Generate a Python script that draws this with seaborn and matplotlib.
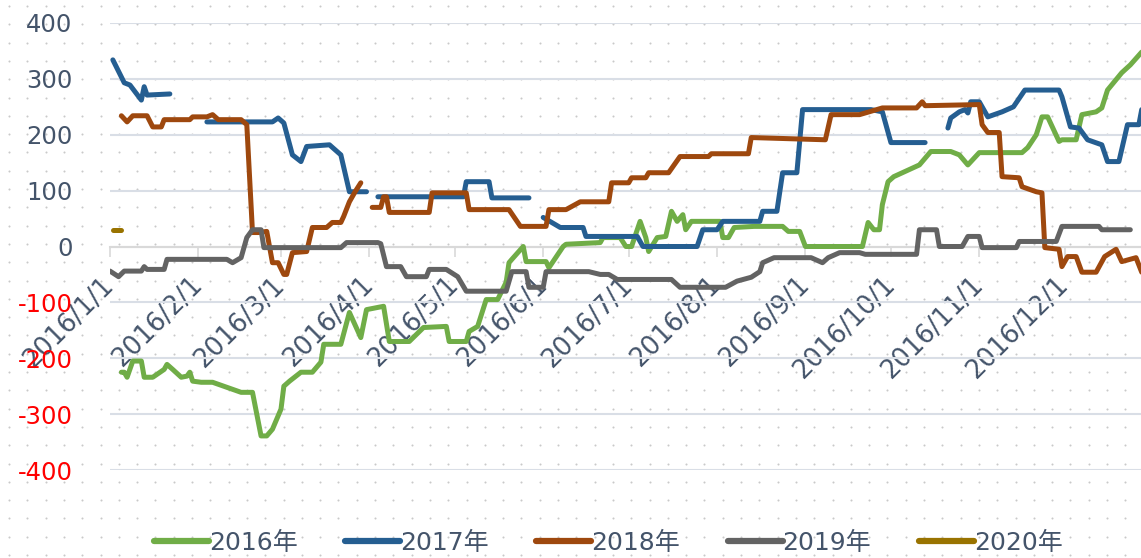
import numpy as np
import pandas as pd
import matplotlib
matplotlib.use("Agg")
import matplotlib.pyplot as plt
from matplotlib.lines import Line2D
import seaborn as sns

years = ["2016年", "2017年", "2018年", "2019年", "2020年"]
colors = ["#70AD47", "#255E91", "#9E480E", "#636363", "#997300"]

# x = days since 2016-01-01, None marks a gap in the line
day16 = [4, 5, 6, 8, 11, 12, 15, 19, 20, 22, 25, 27, 28, 29, 32, 36, 46, 50, 53, 55,
         57, 60, 61, 63, 67, 71, 74, 75, 81, 84, 88, 90, 96, 98, 105, 110, 118, 119, 125, 126,
         129, 132, 136, 139, 140, 141, 145, 146, 153, 154, 159, 160, 172, 173, 179, 181, 183, 186, 188, 189,
         192, 195, 197, 199, 201, 202, 204, 214, 215, 217, 219, 226, 236, 238, 242, 244, 264, 266, 268, 270,
         271, 273, 275, 284, 288, 295, 298, 301, 305, 320, 322, 325, 327, 329, 333, 334, 339, 341, 346, 348,
         350, 355, 358, 362]
val16 = [-225, -225, -234, -205, -205, -234, -234, -220, -211, -220, -234, -232, -225, -241, -243, -243, -261, -261, -339, -339,
         -327, -291, -250, -241, -225, -225, -207, -175, -175, -118, -163, -113, -107, -170, -170, -145, -143, -170, -170, -152,
         -143, -95, -95, -64, -29, -23, 0, -27, -27, -38, 0, 4, 7, 16, 16, 0, 0, 45, 16, -9,
         16, 18, 63, 45, 57, 30, 45, 45, 16, 16, 34, 36, 36, 27, 27, 0, 0, 43, 30, 30,
         75, 116, 125, 146, 170, 170, 164, 146, 168, 168, 177, 200, 232, 232, 188, 191, 191, 236, 241, 248,
         280, 311, 325, 348]

day17 = [1, 5, 7, 11, 12, 13, 21, 22, 34, 57, 59, 61, 64, 67, 69, 77, 81, 84, 90, 92,
         94, 124, 125, 133, 134, 147, 150, 152, 158, 166, 167, 185, 187, 206, 208, 213, 215, 228, 229, 234,
         236, 241, 243, 267, 271, 274, 286, 290, 294, 295, 298, 300, 301, 302, 305, 308, 313, 317, 321, 333,
         334, 337, 340, 343, 348, 350, 354, 357, 361, 362]
val17 = [334, 293, 289, 262, 286, 271, 273, None, 223, 223, 230, 221, 164, 152, 179, 182, 164, 98, 98, None,
         89, 89, 116, 116, 87, 87, None, 52, 34, 34, 18, 18, 0, 0, 30, 30, 45, 45, 63, 63,
         132, 132, 245, 245, 241, 186, 186, None, 212, 230, 241, 245, 239, 259, 259, 232, 241, 250, 280, 280,
         268, 214, 212, 191, 182, 152, 152, 218, 218, 245]

day18 = [4, 6, 8, 13, 15, 18, 19, 28, 29, 34, 36, 38, 46, 48, 50, 52, 55, 57, 59, 61,
         62, 64, 69, 71, 76, 78, 81, 82, 84, 86, 88, 90, 92, 95, 96, 97, 98, 112, 113, 125,
         126, 140, 144, 153, 154, 160, 165, 175, 176, 182, 183, 188, 189, 196, 200, 210, 211, 224, 225, 251,
         253, 263, 271, 283, 285, 286, 305, 306, 308, 312, 313, 319, 320, 325, 327, 328, 333, 334, 336, 339,
         341, 346, 349, 353, 355, 360, 362]
val18 = [234, 223, 234, 234, 214, 214, 227, 227, 232, 232, 236, 227, 227, 218, 25, 25, 27, -29, -29, -50,
         -50, -11, -9, 34, 34, 43, 43, 54, 80, 98, 114, None, 70, 70, 89, 89, 61, 61, 96, 96,
         66, 66, 36, 36, 66, 66, 80, 80, 114, 114, 123, 123, 132, 132, 161, 161, 166, 166, 195, 191,
         236, 236, 248, 248, 259, 252, 254, 218, 204, 204, 125, 123, 107, 98, 96, -2, -5, -36, -18, -18,
         -46, -46, -18, -5, -27, -20, -46]

day19 = [0, 3, 5, 11, 12, 13, 19, 20, 41, 43, 46, 48, 50, 53, 54, 81, 83, 94, 95, 97,
         102, 104, 111, 112, 118, 122, 125, 139, 141, 146, 147, 152, 153, 168, 172, 175, 178, 197, 200, 216,
         220, 225, 228, 229, 233, 246, 250, 252, 256, 263, 265, 283, 284, 290, 291, 299, 301, 305, 306, 318,
         319, 332, 334, 347, 348, 358]
val19 = [-44, -54, -44, -44, -36, -41, -41, -23, -23, -29, -20, 16, 30, 30, -2, -2, 7, 7, 5, -36,
         -36, -54, -54, -41, -41, -54, -80, -80, -45, -45, -73, -73, -45, -45, -50, -50, -59, -59, -73, -73,
         -62, -55, -45, -29, -20, -20, -29, -20, -11, -11, -14, -14, 30, 30, 0, 0, 18, 18, -2, -2,
         9, 9, 36, 36, 30, 30]

day20 = [1, 4]
val20 = [30, 30]

start = pd.Timestamp("2016-01-01")
series = [(day16, val16), (day17, val17), (day18, val18), (day19, val19), (day20, val20)]

rows = []
for yr, (days, vals) in zip(years, series):
    seg = 0
    for d, v in zip(days, vals):
        if v is None:
            seg += 1
            continue
        rows.append({"date": start + pd.Timedelta(days=d), "value": v,
                     "year": yr, "seg": f"{yr}-{seg}"})
df = pd.DataFrame(rows)

sns.set_theme(style="white")
plt.rcParams["font.family"] = ["DejaVu Sans", "Noto Sans CJK SC"]

W, H = 1141, 558
fig = plt.figure(figsize=(W / 100, H / 100), dpi=100)

# dotted page background
bg = fig.add_axes([0, 0, 1, 1], zorder=0)
bx, by = np.meshgrid(np.arange(9, W, 18.3), np.arange(6, H, 18.3))
bg.scatter(bx.ravel(), by.ravel(), s=2.2, color="#C9C9C9", linewidths=0)
bg.set_xlim(0, W)
bg.set_ylim(H, 0)
bg.axis("off")

ax = fig.add_axes([110 / W, 1 - 470 / H, 1 - 110 / W, 447 / H], zorder=1)
ax.set_facecolor("none")

sns.lineplot(data=df, x="date", y="value", hue="year", units="seg", estimator=None,
             sort=False, palette=dict(zip(years, colors)), linewidth=3.6,
             legend=False, ax=ax, solid_capstyle="round", solid_joinstyle="round", zorder=3)

ax.set_xlim(start, start + pd.Timedelta(days=361.75))
ax.set_ylim(-400, 400)
ax.set_xlabel("")
ax.set_ylabel("")

ax.set_yticks(range(-400, 401, 100))
ax.set_yticklabels([str(v) for v in range(-400, 401, 100)])
for lbl, v in zip(ax.get_yticklabels(), range(-400, 401, 100)):
    lbl.set_color("#FF0000" if v < 0 else "#44546A")
ax.tick_params(axis="y", length=0, pad=27, labelsize=17.5)

months = pd.date_range("2016-01-01", periods=12, freq="MS")
ax.set_xticks(months)
ax.set_xticklabels([f"{m.year}/{m.month}/{m.day}" for m in months])
ax.tick_params(axis="x", length=7, width=1.2, color="#D9D9D9", direction="out",
               pad=18, labelsize=18.5, bottom=True, labelrotation=45, labelcolor="#44546A")

ax.yaxis.grid(True, color="#D9DEE6", linewidth=1.5)
ax.xaxis.grid(False)
for s in ["top", "left", "right"]:
    ax.spines[s].set_visible(False)
ax.spines["bottom"].set_position(("data", 0))
ax.spines["bottom"].set_color("#D9D9D9")
ax.spines["bottom"].set_linewidth(1.5)

for lbl in ax.get_xticklabels():
    lbl.set_rotation(45)
    lbl.set_horizontalalignment("right")
    lbl.set_verticalalignment("center")
    lbl.set_rotation_mode("anchor")

handles = [Line2D([], [], color=c, linewidth=4.5, solid_capstyle="round") for c in colors]
leg = fig.legend(handles, years, loc="center", bbox_to_anchor=(0.533, 0.027), ncol=5,
                 frameon=False, handlelength=2.2, handletextpad=0.0, columnspacing=1.9,
                 fontsize=18)
for t in leg.get_texts():
    t.set_color("#44546A")

fig.savefig("out.png", dpi=100)
